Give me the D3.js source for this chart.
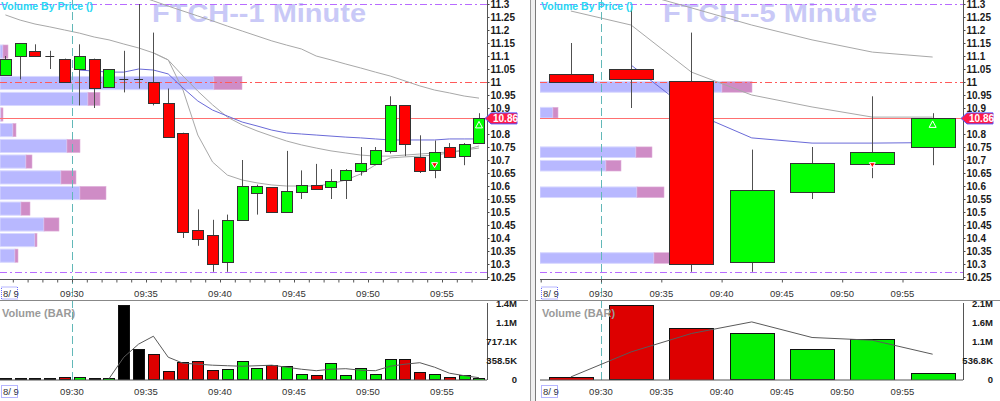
<!DOCTYPE html>
<html><head><meta charset="utf-8">
<script src="https://cdn.jsdelivr.net/npm/d3@7"></script>
<style>body{margin:0;background:#fff;}svg{display:block;font-family:"Liberation Sans",Arial,sans-serif;}</style>
</head><body><svg id="chart" width="1000" height="401"></svg>
<script>
// ---------- 1 minute data ----------
const times1 = ["09:25","09:26","09:27","09:28","09:29","09:30","09:31","09:32","09:33","09:34","09:35","09:36","09:37","09:38","09:39","09:40","09:41","09:42","09:43","09:44","09:45","09:46","09:47","09:48","09:49","09:50","09:51","09:52","09:53","09:54","09:55","09:56","09:57"];
const open1  = [11.03,11.10,11.12,11.10,11.09,11.05,11.09,10.98,11.01,11.01,11.00,10.92,10.805,10.43,10.41,10.31,10.47,10.575,10.595,10.50,10.58,10.605,10.595,10.62,10.66,10.685,10.735,10.91,10.71,10.66,10.75,10.715,10.765];
const high1  = [11.10,11.15,11.145,11.12,11.09,11.145,11.09,11.05,11.12,11.30,11.19,10.975,10.805,10.51,10.47,10.49,10.70,10.605,10.595,10.735,10.66,10.685,10.665,10.665,10.75,10.75,10.945,10.91,10.795,10.775,10.765,10.765,10.88];
const low1   = [11.03,11.01,11.10,11.05,11.00,10.91,10.90,10.98,10.96,10.975,10.91,10.79,10.40,10.37,10.27,10.27,10.47,10.49,10.50,10.50,10.55,10.59,10.55,10.55,10.64,10.68,10.725,10.715,10.65,10.63,10.71,10.68,10.765];
const close1 = [11.09,11.15,11.10,11.10,11.00,11.10,10.98,11.05,11.01,11.01,10.92,10.79,10.425,10.395,10.30,10.47,10.60,10.60,10.50,10.58,10.605,10.59,10.62,10.66,10.69,10.74,10.91,10.76,10.655,10.73,10.71,10.76,10.86];
const maFast1 = [11.258,11.238,11.223,11.212,11.200,11.188,11.173,11.162,11.146,11.131,11.112,11.085,10.969,10.796,10.692,10.642,10.623,10.612,10.604,10.600,10.600,10.600,10.608,10.623,10.646,10.681,10.708,10.712,10.715,10.719,10.727,10.738,10.754];
const maMid1 = [null,null,null,null,null,null,null,null,null,null,11.112,11.085,11.023,10.965,10.912,10.865,10.835,10.812,10.792,10.773,10.758,10.746,10.735,10.727,10.719,10.715,10.715,10.719,10.723,10.727,10.731,10.738,10.746];
const vwap1 = [null,null,null,null,null,11.046,11.042,11.038,11.038,11.050,11.046,11.031,10.977,10.927,10.892,10.869,10.846,10.831,10.815,10.804,10.800,10.796,10.792,10.788,10.785,10.781,10.777,10.777,10.777,10.777,10.781,10.781,10.781];
const maSlow1 = [null,null,null,null,null,null,null,null,null,11.331,11.312,11.292,11.273,11.254,11.235,11.215,11.196,11.177,11.158,11.142,11.127,11.100,11.085,11.069,11.054,11.038,11.023,11.004,10.985,10.969,10.958,10.946,10.938];
const vol1 = [20,20,25,20,45,55,25,30,1400,585,477,162,321,345,175,194,345,226,270,251,100,81,302,81,226,100,383,383,143,100,49,81,30];
const volMA1 = [null,null,null,null,null,null,null,15,421,668,817,421,307,289,270,260,250,260,270,232,194,166,194,204,175,166,250,289,317,232,119,72,34];
const vbpPrice1 = [11.117,10.996,10.935,10.875,10.815,10.754,10.694,10.633,10.573,10.513,10.452,10.392,10.332];
const vbpUp1 = [15,1070,440,5,65,335,130,305,400,105,220,175,75];
const vbpDn1 = [25,140,60,10,15,65,30,75,130,45,75,10,15];
const downMark1 = {time:"09:54", price:10.68};
const upMark1 = {time:"09:57", price:10.835};
const timeLabels1 = ["09:30","09:35","09:40","09:45","09:50","09:55"];
const tickTimes1 = ["09:26","09:27","09:28","09:29","09:30","09:31","09:32","09:33","09:34","09:35","09:36","09:37","09:38","09:39","09:40","09:41","09:42","09:43","09:44","09:45","09:46","09:47","09:48","09:49","09:50","09:51","09:52","09:53","09:54","09:55","09:56","09:57"];
const volTicks1 = [0,358.5,717.1,1075.6,1434.2];
const volTickLabels1 = ["0","358.5K","717.1K","1.1M","1.4M"];

// ---------- 5 minute data ----------
const times5 = ["09:25","09:30","09:35","09:40","09:45","09:50","09:55"];
const open5  = [11.03,11.05,11.005,10.31,10.58,10.685,10.75];
const high5  = [11.15,11.29,11.19,10.74,10.75,10.945,10.88];
const low5   = [11.00,10.90,10.27,10.27,10.55,10.63,10.68];
const close5 = [11.00,11.01,10.30,10.585,10.69,10.73,10.86];
const maMid5 = [11.273,11.219,11.038,10.950,10.904,10.865,10.865];
const vwap5 = [null,11.065,10.885,10.785,10.765,10.765,10.767];
const maSlow5 = [null,11.35,11.285,11.219,11.162,11.115,11.096];
const vol5 = [73,2099,1458,1300,848,1158,186];
const volMA5 = [73,780,1300,1627,1187,1110,715];
const vbpPrice5 = [10.981,10.882,10.730,10.678,10.576,10.323];
const vbpUp5 = [910,65,480,330,485,570];
const vbpDn5 = [150,25,80,75,135,80];
const downMark5 = {time:"09:50", price:10.68};
const upMark5 = {time:"09:55", price:10.837};
const timeLabels5 = ["09:30","09:35","09:40","09:45","09:50","09:55"];
const tickTimes5 = ["09:25","09:30","09:35","09:40","09:45","09:50","09:55"];
const volTicks5 = [0,536.8,1073.6,1610.4,2147.2];
const volTickLabels5 = ["0","536.8K","1.1M","1.6M","2.1M"];

// ---------- shared ----------
const priceTicks = [11.3,11.25,11.2,11.15,11.1,11.05,11,10.95,10.9,10.8,10.75,10.7,10.65,10.6,10.55,10.5,10.45,10.4,10.35,10.3,10.25];
const lastPrice = 10.86, refLevel = 11.0, sessHigh = 11.30, sessLow = 10.27, sessOpen = "09:30";
const dateLabel = "8/ 9";

const svg = d3.select("#chart");
const defs = svg.append("defs");
const parseT = s => { const [h,m] = s.split(":").map(Number); return h*60 + m - 540; };
const yP = d3.scaleLinear().domain([10.25, 11.3]).range([277, 4]);
const vbpX = d3.scaleLinear().domain([0, 1250]).range([0, 250]);
const fmtP = d => String(+d.toFixed(2));

function drawPanel(o) {
  const g = svg.append("g");
  const x = d3.scaleLinear().domain([25, o.endMin]).range([o.x25, o.xEnd]);
  const t = o.times.map(parseT);
  const stepPx = x(25 + o.step) - x(25);
  const bw = stepPx * o.bodyFrac;
  const cx = i => x(t[i] + o.step / 2);
  const yv = d3.scaleLinear().domain([0, o.volMax]).range([379.5, 303.5]);
  defs.append("clipPath").attr("id", o.id + "p").append("rect").attr("x", o.L).attr("y", 0).attr("width", o.R - o.L).attr("height", 279);
  defs.append("clipPath").attr("id", o.id + "v").append("rect").attr("x", o.L).attr("y", 301).attr("width", o.R - o.L).attr("height", 79);

  // watermark title
  g.append("text").attr("x", o.titleX).attr("y", 22).attr("font-size", 25).attr("font-weight", "bold")
    .attr("textLength", 214).attr("lengthAdjust", "spacingAndGlyphs")
    .attr("fill", "#c9c9f7").text(o.title);

  const pg = g.append("g").attr("clip-path", `url(#${o.id}p)`);
  // volume by price
  const binPx = yP(10.25) - yP(10.25 + o.bin);
  o.vbpPrice.forEach((p, i) => {
    const h = binPx - 2.5, yt = yP(p) - h / 2;
    pg.append("rect").attr("x", o.L).attr("y", yt).attr("width", vbpX(o.vbpUp[i])).attr("height", h)
      .attr("fill", "#b8b8ff").attr("stroke", "#d8d8ff").attr("stroke-width", 1);
    pg.append("rect").attr("x", o.L + vbpX(o.vbpUp[i])).attr("y", yt).attr("width", vbpX(o.vbpDn[i])).attr("height", h)
      .attr("fill", "#cf8cc6").attr("stroke", "#e0b0da").attr("stroke-width", 0.6);
  });
  // level lines
  const hline = (p, col, dash) => pg.append("line").attr("x1", o.L).attr("x2", o.R).attr("y1", Math.round(yP(p)) + 0.5).attr("y2", Math.round(yP(p)) + 0.5)
    .attr("stroke", col).attr("stroke-width", 1).attr("stroke-dasharray", dash);
  hline(sessHigh, "#b86cff", "7,3,2,3");
  hline(sessLow, "#b86cff", "7,3,2,3");
  hline(refLevel, "#ff5a5a", "7,3,2,3");
  hline(lastPrice, "#ff7070", null);

  // MA lines
  const line = d3.line().defined(d => d != null).x((d, i) => cx(i)).y(d => yP(d));
  const drawL = (arr, col) => pg.append("path").datum(arr).attr("d", line).attr("fill", "none").attr("stroke", col).attr("stroke-width", 1);
  if (o.maFast) drawL(o.maFast, "#a8a8a8");
  drawL(o.maMid, "#a8a8a8");
  drawL(o.maSlow, "#a8a8a8");
  drawL(o.vwap, "#6a6ad8");

  // candles
  o.open.forEach((op, i) => {
    const cl = o.close[i], X = cx(i);
    pg.append("line").attr("x1", Math.round(X) + 0.5).attr("x2", Math.round(X) + 0.5)
      .attr("y1", yP(o.high[i])).attr("y2", yP(o.low[i])).attr("stroke", "#505050").attr("stroke-width", 1);
    const top = yP(Math.max(op, cl)), bot = yP(Math.min(op, cl));
    if (Math.abs(op - cl) < 0.002) {
      pg.append("line").attr("x1", X - bw * 0.4).attr("x2", X + bw * 0.4).attr("y1", Math.round(top) + 0.5).attr("y2", Math.round(top) + 0.5)
        .attr("stroke", "#303030").attr("stroke-width", 1);
    } else {
      pg.append("rect").attr("x", Math.round(X - bw / 2) + 0.5).attr("y", Math.round(top) + 0.5).attr("width", Math.round(bw))
        .attr("height", Math.max(1, Math.round(bot - top))).attr("fill", cl > op ? "#00ff00" : "#ff0000")
        .attr("stroke", "#333", ).attr("stroke-width", 1);
    }
  });
  // markers
  const dm = o.times.indexOf(o.downMark.time), um = o.times.indexOf(o.upMark.time);
  { const X = cx(dm), Y = yP(o.downMark.price);
    pg.append("path").attr("d", `M${X-3},${Y-2.5}L${X+3},${Y-2.5}L${X},${Y+2.5}Z`).attr("fill", "#ff0000").attr("stroke", "#fff").attr("stroke-width", 1); }
  { const X = cx(um), Y = yP(o.upMark.price);
    pg.append("path").attr("d", `M${X},${Y-3.5}L${X+3.5},${Y+3}L${X-3.5},${Y+3}Z`).attr("fill", "none").attr("stroke", "#fff").attr("stroke-width", 1); }

  // session open dashed vertical
  g.append("line").attr("x1", Math.round(x(parseT(sessOpen))) + 0.5).attr("x2", Math.round(x(parseT(sessOpen))) + 0.5)
    .attr("y1", 0).attr("y2", 380).attr("stroke", "#62b8b8").attr("stroke-width", 1).attr("stroke-dasharray", "8,4");

  // indicator label
  g.append("text").attr("x", o.L + 1).attr("y", 10).attr("font-size", 10.5).attr("font-weight", "bold")
    .attr("fill", "#2ad6f2").text("Volume By Price ()");

  // price axis
  const pax = g.append("g").attr("transform", `translate(${o.R + 0.5},0)`)
    .call(d3.axisRight(yP).tickValues(priceTicks).tickSize(2).tickPadding(1).tickFormat(fmtP));
  pax.select(".domain").remove();
  pax.selectAll("text").attr("font-size", 10).attr("font-weight", "bold").attr("fill", "#1a1a1a").attr("font-family", "Liberation Sans, Arial");
  pax.selectAll("line").attr("stroke", "#444");
  g.append("line").attr("x1", o.R + 0.5).attr("x2", o.R + 0.5).attr("y1", 0).attr("y2", 280).attr("stroke", "#555");

  // last price flag
  { const Y = yP(lastPrice), X = o.R;
    g.append("path").attr("d", `M${X-2},${Y}L${X+4},${Y-5.5}L${X+30},${Y-5.5}L${X+30},${Y+5.5}L${X+4},${Y+5.5}Z`)
      .attr("fill", "#ff1a48").attr("stroke", "#5555ff").attr("stroke-width", 1);
    g.append("text").attr("x", X + 6).attr("y", Y + 3.8).attr("font-size", 10).attr("font-weight", "bold").attr("fill", "#fff").text(fmtP(lastPrice)); }

  // time axis under price panel
  const tax = g.append("g").attr("transform", "translate(0,279.5)")
    .call(d3.axisBottom(x).tickValues(o.tickTimes.map(parseT)).tickSize(3).tickSizeOuter(0).tickFormat(""));
  tax.select(".domain").attr("d", `M${o.L},0H${o.R}`).attr("stroke", "#555");
  tax.selectAll("line").attr("stroke", "#555");
  const timeText = (yb) => {
    o.timeLabels.forEach(s => g.append("text").attr("x", x(parseT(s))).attr("y", yb).attr("text-anchor", "middle")
      .attr("font-size", 9.5).attr("fill", "#333").text(s));
    g.append("text").attr("x", o.L + 3).attr("y", yb).attr("font-size", 9.5).attr("fill", "#333").text(dateLabel);
    g.append("rect").attr("x", o.L + 1.5).attr("y", yb - 9.5).attr("width", 16).attr("height", 12).attr("fill", "none")
      .attr("stroke", "#4646ff").attr("stroke-width", 0.8).attr("stroke-dasharray", "1,1");
  };
  timeText(296.5);

  // volume panel
  const vg = g.append("g").attr("clip-path", `url(#${o.id}v)`);
  o.vol.forEach((v, i) => {
    const op = o.open[i], cl = o.close[i];
    const col = Math.abs(op - cl) < 0.002 ? "#000" : (cl > op ? "#00ee00" : "#dd0000");
    vg.append("rect").attr("x", Math.round(cx(i) - bw / 2) + 0.5).attr("y", Math.round(yv(v)) + 0.5).attr("width", Math.round(bw))
      .attr("height", Math.max(1, Math.round(yv(0) - yv(v)))).attr("fill", col).attr("stroke", "#111").attr("stroke-width", 1);
  });
  vg.append("path").datum(o.volMA).attr("d", d3.line().defined(d => d != null).x((d, i) => cx(i)).y(d => yv(d)))
    .attr("fill", "none").attr("stroke", "#5a5a5a").attr("stroke-width", 1);
  g.append("line").attr("x1", o.L).attr("x2", o.R).attr("y1", 380).attr("y2", 380).attr("stroke", "#555");
  g.append("line").attr("x1", o.R + 0.5).attr("x2", o.R + 0.5).attr("y1", 303).attr("y2", 380).attr("stroke", "#555");
  g.append("text").attr("x", o.L + 2).attr("y", 317).attr("font-size", 11).attr("font-weight", "bold").attr("fill", "#9a9a9a").text("Volume (BAR)");
  const vax = g.append("g").attr("transform", `translate(${o.R + 30},0)`)
    .call(d3.axisLeft(yv).tickValues(o.volTicks).tickSize(0).tickPadding(0).tickFormat((d, i) => o.volTickLabels[i]));
  vax.select(".domain").remove();
  vax.selectAll("text").attr("font-size", 9.5).attr("font-weight", "bold").attr("fill", "#1a1a1a").attr("font-family", "Liberation Sans, Arial");
  timeText(395);

  // horizontal separator
  g.append("line").attr("x1", o.L - (o.id === "r" ? 4 : 0)).attr("x2", o.sepR).attr("y1", 300.5).attr("y2", 300.5).attr("stroke", "#888");
}

drawPanel({id: "l", L: 0, R: 487, x25: -2, xEnd: 486.4, endMin: 58, step: 1, bodyFrac: 0.75, sepR: 528,
  times: times1, open: open1, high: high1, low: low1, close: close1,
  maFast: maFast1, maMid: maMid1, vwap: vwap1, maSlow: maSlow1,
  vol: vol1, volMA: volMA1, volMax: 1434.2, volTicks: volTicks1, volTickLabels: volTickLabels1,
  vbpPrice: vbpPrice1, vbpUp: vbpUp1, vbpDn: vbpDn1, bin: 0.0604,
  downMark: downMark1, upMark: upMark1, timeLabels: timeLabels1, tickTimes: tickTimes1,
  title: "FTCH--1 Minute", titleX: 152});

drawPanel({id: "r", L: 540, R: 963, x25: 540.7, xEnd: 962.8, endMin: 60, step: 5, bodyFrac: 0.73, sepR: 1000,
  times: times5, open: open5, high: high5, low: low5, close: close5,
  maFast: null, maMid: maMid5, vwap: vwap5, maSlow: maSlow5,
  vol: vol5, volMA: volMA5, volMax: 2147.2, volTicks: volTicks5, volTickLabels: volTickLabels5,
  vbpPrice: vbpPrice5, vbpUp: vbpUp5, vbpDn: vbpDn5, bin: 0.0504,
  downMark: downMark5, upMark: upMark5, timeLabels: timeLabels5, tickTimes: tickTimes5,
  title: "FTCH--5 Minute", titleX: 663});

// vertical divider between the two charts
svg.append("rect").attr("x", 530).attr("y", 0).attr("width", 6).attr("height", 401).attr("fill", "#f0f0f0");
svg.append("line").attr("x1", 530.5).attr("x2", 530.5).attr("y1", 0).attr("y2", 401).attr("stroke", "#9a9a9a");
svg.append("line").attr("x1", 535.5).attr("x2", 535.5).attr("y1", 0).attr("y2", 401).attr("stroke", "#7a7a7a");
</script></body></html>
